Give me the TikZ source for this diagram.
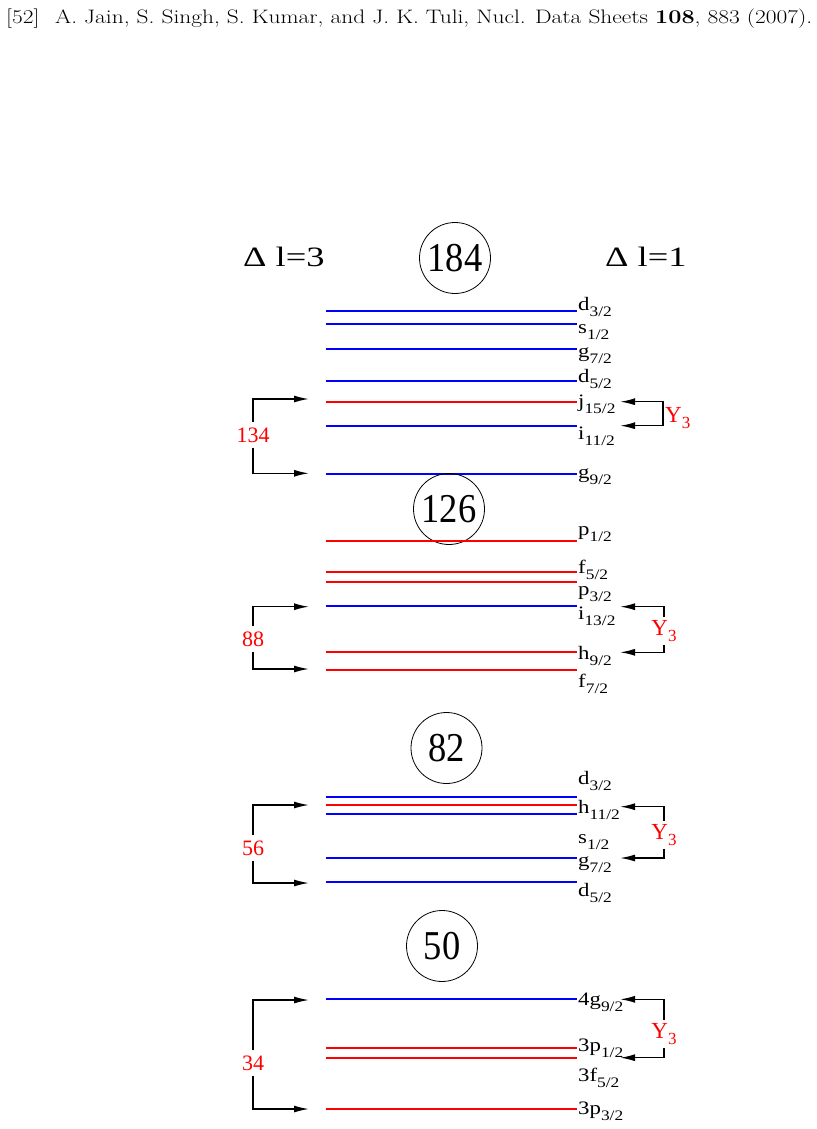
\documentclass[tikz,border=0pt]{standalone}
\usepackage{fontspec}
\newfontfamily\tmsfont{Liberation Serif}
\usetikzlibrary{arrows.meta}
% orbital label with lowered j
\newcommand{\orb}[2]{\scalebox{1.2}[1]{#1\raisebox{-6pt}{\fontsize{14.5}{15}\selectfont #2}}}
\newcommand{\ythree}{Y\raisebox{-6pt}{\fontsize{17}{18}\selectfont 3}}
\begin{document}
\begin{tikzpicture}[x=1pt, y=-1pt,
    blu/.style={draw=blue, line width=2pt},
    rd/.style={draw=red, line width=2pt},
    magic/.style={circle, draw, line width=0.8pt, minimum size=71pt, inner sep=0pt, font=\tmsfont\fontsize{41}{43}\selectfont},
    orbit/.style={anchor=base west, inner sep=0pt, font=\tmsfont\fontsize{19}{21}\selectfont},
    gapnum/.style={text=red, inner sep=5pt, font=\tmsfont\fontsize{22}{24}\selectfont},
    ylab/.style={text=red, inner sep=3pt, font=\tmsfont\fontsize{23}{25}\selectfont},
    dlab/.style={anchor=base west, inner sep=0pt, font=\tmsfont\fontsize{28}{30}\selectfont},
    brk/.style={line width=1.5pt, -{Latex[length=15pt,width=7pt]}},
    brkboth/.style={line width=1.5pt, {Latex[length=15pt,width=7pt]}-{Latex[length=15pt,width=7pt]}}]
    \useasboundingbox (0,0) rectangle (816,1129);

    \node[anchor=base west, inner sep=0pt, font=\fontsize{19.5}{22}\selectfont] (ref) at (6,24)
        {\scalebox{1.2}[1]{[52]\hspace{0.67em}A. Jain, S. Singh, S. Kumar, and J. K. Tuli, Nucl. Data Sheets \textbf{108}, 883 (2007).}};

    \node[dlab] (dl3) at (243,266) {\scalebox{1.3}[1]{Δ l=3}};
    \node[dlab] (dl1) at (605,266) {\scalebox{1.3}[1]{Δ l=1}};

    % --- 184 ---
    \node[magic] (m184) at (455,258) {\scalebox{0.89}[1]{184}};
    \draw[blu] (326,310.7) -- (577,310.7);
    \draw[blu] (326,324.3) -- (577,324.3);
    \draw[blu] (326,349)   -- (577,349);
    \draw[blu] (326,380.7) -- (577,380.7);
    \draw[rd]  (326,401.7) -- (577,401.7);
    \draw[blu] (326,425.7) -- (577,425.7);
    \draw[blu] (326,474.3) -- (577,474.3);
    \node[orbit] (o184_1) at (578,310.5) {\orb{d}{3/2}};
    \node[orbit] (o184_2) at (578,333)   {\orb{s}{1/2}};
    \node[orbit] (o184_3) at (578,357)   {\orb{g}{7/2}};
    \node[orbit] (o184_4) at (578,382)   {\orb{d}{5/2}};
    \node[orbit] (o184_5) at (578,407.5) {\orb{j}{15/2}};
    \node[orbit] (o184_6) at (578,439)   {\orb{i}{11/2}};
    \node[orbit] (o184_7) at (578,478)   {\orb{g}{9/2}};
    \node[gapnum] (g134) at (253,435) {134};
    \coordinate (t184a) at (309,399);
    \coordinate (t184b) at (309,473.3);
    \draw[brk] (g134.north) |- (t184a);
    \draw[brk] (g134.south) |- (t184b);
    \coordinate (r184a) at (620,401.7);
    \coordinate (r184b) at (620,425.7);
    \coordinate (v184) at (663,401.7);
    \draw[brkboth] (r184a) -- (v184) |- (r184b);
    \node[ylab, anchor=base west, inner sep=0pt] (y184) at (665,422.7) {\ythree};

    % --- 126 ---
    \node[magic] (m126) at (449,509) {\scalebox{0.89}[1]{126}};
    \draw[rd]  (326,540.7) -- (577,540.7);
    \draw[rd]  (326,572.3) -- (577,572.3);
    \draw[rd]  (326,582)   -- (577,582);
    \draw[blu] (326,606)   -- (577,606);
    \draw[rd]  (326,652.3) -- (577,652.3);
    \draw[rd]  (326,669.7) -- (577,669.7);
    \node[orbit] (o126_1) at (578,535) {\orb{p}{1/2}};
    \node[orbit] (o126_2) at (578,573) {\orb{f}{5/2}};
    \node[orbit] (o126_3) at (578,595) {\orb{p}{3/2}};
    \node[orbit] (o126_4) at (578,619) {\orb{i}{13/2}};
    \node[orbit] (o126_5) at (578,659) {\orb{h}{9/2}};
    \node[orbit] (o126_6) at (578,687) {\orb{f}{7/2}};
    \node[gapnum] (g88) at (253,639) {88};
    \coordinate (t126a) at (309,606.7);
    \coordinate (t126b) at (309,669);
    \draw[brk] (g88.north) |- (t126a);
    \draw[brk] (g88.south) |- (t126b);
    \node[ylab] (y126) at (664,631) {\ythree};
    \coordinate (r126a) at (620,606.7);
    \coordinate (r126b) at (620,652.3);
    \draw[brk] (y126.north) |- (r126a);
    \draw[brk] (y126.south) |- (r126b);

    % --- 82 ---
    \node[magic] (m82) at (446.5,748) {\scalebox{0.89}[1]{82}};
    \draw[blu] (326,796.7) -- (577,796.7);
    \draw[rd]  (326,805)   -- (577,805);
    \draw[blu] (326,814.3) -- (577,814.3);
    \draw[blu] (326,858)   -- (577,858);
    \draw[blu] (326,882.3) -- (577,882.3);
    \node[orbit] (o82_1) at (578,784)   {\orb{d}{3/2}};
    \node[orbit] (o82_2) at (578,813)   {\orb{h}{11/2}};
    \node[orbit] (o82_3) at (578,843)   {\orb{s}{1/2}};
    \node[orbit] (o82_4) at (578,866)   {\orb{g}{7/2}};
    \node[orbit] (o82_5) at (578,896.7) {\orb{d}{5/2}};
    \node[gapnum] (g56) at (253,848) {56};
    \coordinate (t82a) at (309,805);
    \coordinate (t82b) at (309,883);
    \draw[brk] (g56.north) |- (t82a);
    \draw[brk] (g56.south) |- (t82b);
    \node[ylab] (y82) at (664,835) {\ythree};
    \coordinate (r82a) at (620,806.7);
    \coordinate (r82b) at (620,858);
    \draw[brk] (y82.north) |- (r82a);
    \draw[brk] (y82.south) |- (r82b);

    % --- 50 ---
    \node[magic] (m50) at (442,946) {\scalebox{0.89}[1]{50}};
    \draw[blu] (326,999.3)  -- (577,999.3);
    \draw[rd]  (326,1048)   -- (577,1048);
    \draw[rd]  (326,1057.7) -- (577,1057.7);
    \draw[rd]  (326,1108.7) -- (577,1108.7);
    \node[orbit] (o50_1) at (578,1005.5) {\orb{4g}{9/2}};
    \node[orbit] (o50_2) at (578,1051)   {\orb{3p}{1/2}};
    \node[orbit] (o50_3) at (578,1081)   {\orb{3f}{5/2}};
    \node[orbit] (o50_4) at (578,1114)   {\orb{3p}{3/2}};
    \node[gapnum] (g34) at (253,1063) {34};
    \coordinate (t50a) at (309,1000);
    \coordinate (t50b) at (309,1109);
    \draw[brk] (g34.north) |- (t50a);
    \draw[brk] (g34.south) |- (t50b);
    \node[ylab] (y50) at (664,1034) {\ythree};
    \coordinate (r50a) at (620,999.3);
    \coordinate (r50b) at (620,1057.7);
    \draw[brk] (y50.north) |- (r50a);
    \draw[brk] (y50.south) |- (r50b);
\end{tikzpicture}
\end{document}
